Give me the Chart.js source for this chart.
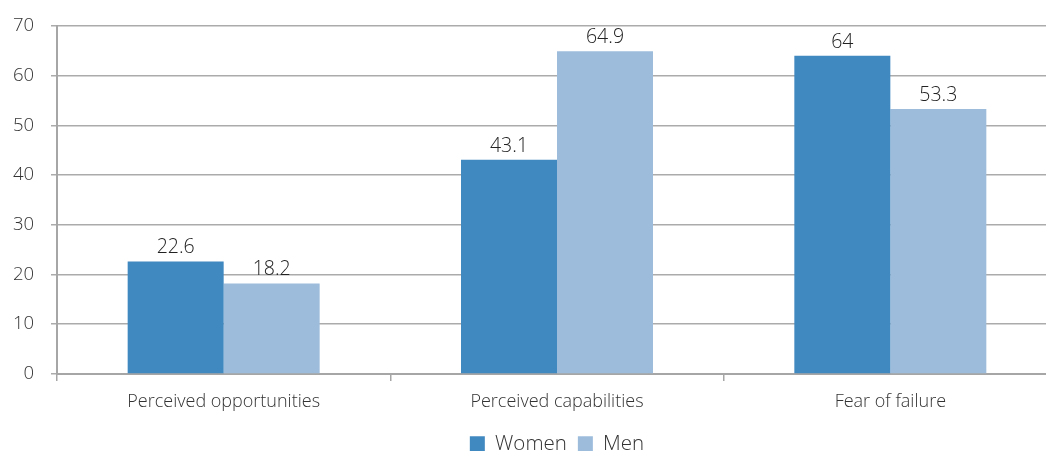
<!DOCTYPE html>
<html>
<head>
<meta charset="utf-8">
<script src="https://cdn.jsdelivr.net/npm/chart.js@4/dist/chart.umd.min.js"></script>
<style>
  html, body { margin: 0; padding: 0; background: #fff; overflow: hidden; }
  #wrap { width: 1060px; height: 451px; position: relative; }
</style>
</head>
<body>
<div id="wrap"><canvas id="c"></canvas></div>
<script>
const categories = ['Perceived opportunities', 'Perceived capabilities', 'Fear of failure'];
const women = [22.6, 43.1, 64];
const men = [18.2, 64.9, 53.3];
const yTicks = [0, 10, 20, 30, 40, 50, 60, 70];

const FONT = '"Open Sans", "Noto Sans", sans-serif';

// Writes each bar's value just above the bar top
const valueLabels = {
  id: 'valueLabels',
  afterDatasetsDraw(chart) {
    const ctx = chart.ctx;
    ctx.save();
    ctx.font = '300 19.5px ' + FONT;
    ctx.fillStyle = '#222';
    ctx.textAlign = 'center';
    ctx.textBaseline = 'bottom';
    chart.data.datasets.forEach((ds, i) => {
      chart.getDatasetMeta(i).data.forEach((bar, j) => {
        ctx.fillText(String(ds.data[j]), bar.x, bar.y - 4);
      });
    });
    ctx.restore();
  }
};

new Chart(document.getElementById('c'), {
  type: 'bar',
  data: {
    labels: categories,
    datasets: [
      { label: 'Women', data: women, backgroundColor: '#4088C0' },
      { label: 'Men', data: men, backgroundColor: '#9DBCDC' }
    ]
  },
  options: {
    responsive: true,
    maintainAspectRatio: false,
    animation: false,
    devicePixelRatio: 1,
    layout: { padding: { top: 26, right: 3, left: 0, bottom: -13 } },
    datasets: { bar: { categoryPercentage: 0.576, barPercentage: 1.0 } },
    scales: {
      x: {
        grid: { offset: true, drawOnChartArea: false, color: '#A6A6A6', tickLength: 7, lineWidth: 1.5 },
        border: { color: '#A6A6A6', width: 2 },
        ticks: { color: '#333', font: { family: FONT, size: 18, weight: 300 }, padding: 10 }
      },
      y: {
        min: 0, max: 70,
        afterBuildTicks(scale) { scale.ticks = yTicks.map(v => ({ value: v })); },
        afterFit(scale) { scale.width = 57; scale.paddingTop = 12; scale.paddingBottom = 12; },
        grid: { color: '#ABABAB', lineWidth: 1.5, tickLength: 6 },
        border: { color: '#A6A6A6', width: 2 },
        ticks: { color: '#333', font: { family: FONT, size: 18.5, weight: 300 }, padding: 17 }
      }
    },
    plugins: {
      legend: {
        position: 'bottom',
        fullSize: false,
        labels: {
          color: '#333',
          font: { family: FONT, size: 20.5, weight: 300 },
          boxWidth: 15, boxHeight: 15, padding: 11
        }
      },
      tooltip: { enabled: false }
    }
  },
  plugins: [valueLabels]
});
</script>
</body>
</html>
